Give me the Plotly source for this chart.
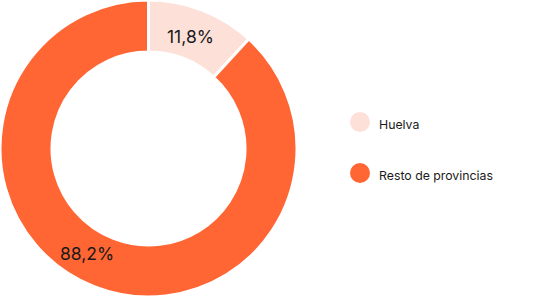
import plotly.graph_objects as go

labels = ["Huelva", "Resto de provincias"]
values = [11.8, 88.2]
colors = ["#fde0d8", "#ff6633"]
text_labels = ["11,8%", "88,2%"]

W, H = 543, 297
# pixel positions of value labels (layout)
label_pos = [(190, 36), (87, 253)]

fig = go.Figure()

fig.add_trace(go.Pie(
    labels=labels, values=values, sort=False, direction="clockwise", rotation=0,
    hole=0.65, textinfo="none",
    marker=dict(colors=colors, line=dict(color="white", width=3)),
    domain=dict(x=[0, 297 / W], y=[0, 1]), showlegend=False,
    text=text_labels, hoverinfo="label+text",
))

# legend markers
fig.add_trace(go.Scatter(
    x=[0] * len(labels), y=list(range(len(labels))), mode="markers",
    marker=dict(size=20, color=colors), cliponaxis=False, showlegend=False, hoverinfo="skip",
))

annotations = []
for t, (px, py) in zip(text_labels, label_pos):
    annotations.append(dict(
        text=t, x=px / W, y=1 - py / H, xref="paper", yref="paper",
        xanchor="center", yanchor="middle", showarrow=False,
        font=dict(family="Inter", size=17.5, color="#1a1a1a"),
    ))
for i, lab in enumerate(labels):
    annotations.append(dict(
        text=lab, x=0.093, y=i + 0.05, xref="x", yref="y",
        xanchor="left", yanchor="middle", showarrow=False,
        font=dict(family="Inter", size=12.3, color="#1a1a1a"),
    ))

fig.update_layout(
    width=W, height=H, margin=dict(l=0, r=0, t=0, b=0),
    paper_bgcolor="white", plot_bgcolor="white",
    xaxis=dict(domain=[360 / W, 1], range=[0, 1], visible=False, fixedrange=True),
    yaxis=dict(domain=[0, 1], range=[3.43, -2.39], visible=False, fixedrange=True),
    annotations=annotations,
)

fig.write_html("out.html")
